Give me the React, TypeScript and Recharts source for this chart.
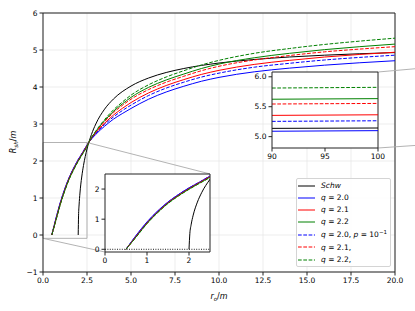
import React from 'react';
import { LineChart, Line, XAxis, YAxis, CartesianGrid, ReferenceLine, ReferenceArea, Legend } from 'recharts';

const FONT = '"DejaVu Sans", "Liberation Sans", sans-serif';

// ---- data ----
const schwX = [2, 2.02, 2.05, 2.1, 2.2, 2.3, 2.5, 2.75, 3, 3.5, 4, 5, 6, 7, 8, 10, 12, 14, 16, 18, 20];
const schwY = [0, 0.517, 0.811, 1.134, 1.567, 1.877, 2.324, 2.713, 3.0, 3.402, 3.674, 4.025, 4.243, 4.392, 4.5, 4.648, 4.743, 4.811, 4.86, 4.899, 4.93];

const qX = [0.5, 0.75, 1, 1.25, 1.5, 1.75, 2, 2.25, 2.5, 2.6, 3, 3.5, 4, 4.5, 5, 6, 7, 8, 9, 10, 12, 14, 16, 18, 20];
const q20Y = [0, 0.48, 0.91, 1.27, 1.57, 1.82, 2.04, 2.23, 2.43, 2.5, 2.72, 2.94, 3.13, 3.28, 3.42, 3.67, 3.865, 4.02, 4.155, 4.26, 4.41, 4.51, 4.59, 4.655, 4.71];
const q21Y = [0, 0.45, 0.88, 1.24, 1.55, 1.8, 2.02, 2.22, 2.42, 2.5, 2.76, 3.02, 3.24, 3.42, 3.58, 3.84, 4.04, 4.2, 4.34, 4.45, 4.61, 4.72, 4.81, 4.88, 4.94];
const q22Y = [0, 0.43, 0.86, 1.22, 1.53, 1.78, 2.0, 2.2, 2.4, 2.5, 2.795, 3.09, 3.34, 3.54, 3.72, 3.99, 4.19, 4.35, 4.5, 4.62, 4.79, 4.91, 5.01, 5.09, 5.16];
const q20pY = [0, 0.465, 0.895, 1.255, 1.565, 1.815, 2.035, 2.23, 2.43, 2.5, 2.74, 2.985, 3.19, 3.36, 3.51, 3.77, 3.97, 4.13, 4.268, 4.375, 4.535, 4.64, 4.73, 4.8, 4.86];
const q21pY = [0, 0.44, 0.87, 1.23, 1.54, 1.79, 2.01, 2.21, 2.41, 2.5, 2.78, 3.065, 3.305, 3.5, 3.67, 3.93, 4.13, 4.29, 4.44, 4.56, 4.73, 4.85, 4.95, 5.025, 5.09];
const q22pY = [0, 0.42, 0.85, 1.21, 1.52, 1.77, 1.99, 2.19, 2.39, 2.5, 2.81, 3.12, 3.38, 3.59, 3.78, 4.06, 4.27, 4.44, 4.595, 4.72, 4.91, 5.04, 5.15, 5.24, 5.32];

const farX = [90, 95, 100];
const farSchw = [5.138, 5.141, 5.144];
const farQ20 = [5.09, 5.095, 5.1];
const farQ21 = [5.355, 5.36, 5.365];
const farQ22 = [5.625, 5.63, 5.635];
const farQ20p = [5.255, 5.26, 5.265];
const farQ21p = [5.545, 5.55, 5.555];
const farQ22p = [5.812, 5.818, 5.824];

const labels = ['Schw', 'q = 2.0', 'q = 2.1', 'q = 2.2', 'q = 2.0, p = 10^-1', 'q = 2.1,', 'q = 2.2,'];

const mainXTicks = [0, 2.5, 5, 7.5, 10, 12.5, 15, 17.5, 20];
const mainYTicks = [-1, 0, 1, 2, 3, 4, 5, 6];
const lowTicks = [0, 1, 2];
const farXTicks = [90, 95, 100];
const farYTicks = [5.0, 5.5, 6.0];

// zoom box and connector ends (data coordinates of the main axes)
const zoomBox = { x1: 0, x2: 2.5, y1: -0.09, y2: 2.5 };
const lowConnA = [{ x: 2.5, y: 2.5 }, { x: 9.49, y: 1.65 }];
const lowConnB = [{ x: 0, y: -0.09 }, { x: 3.52, y: -0.46 }];
const farConnA = [{ x: 19.03, y: 4.405 }, { x: 21.3, y: 4.5 }];
const farConnB = [{ x: 19.03, y: 2.351 }, { x: 21.3, y: 2.425 }];

const pts = (xs: number[], ys: number[]) => xs.map((x, i) => ({ x, y: ys[i] }));

const DASH = '3.7 1.6';
const series = [
  { name: labels[0], color: '#000000', dash: undefined as string | undefined, main: pts(schwX, schwY), far: pts(farX, farSchw) },
  { name: labels[1], color: '#0000ff', dash: undefined, main: pts(qX, q20Y), far: pts(farX, farQ20) },
  { name: labels[2], color: '#ff0000', dash: undefined, main: pts(qX, q21Y), far: pts(farX, farQ21) },
  { name: labels[3], color: '#008000', dash: undefined, main: pts(qX, q22Y), far: pts(farX, farQ22) },
  { name: labels[4], color: '#0000ff', dash: DASH, main: pts(qX, q20pY), far: pts(farX, farQ20p) },
  { name: labels[5], color: '#ff0000', dash: DASH, main: pts(qX, q21pY), far: pts(farX, farQ21p) },
  { name: labels[6], color: '#008000', dash: DASH, main: pts(qX, q22pY), far: pts(farX, farQ22p) },
];

const tickStyle = { fontSize: 7.5, fill: '#000', fontFamily: FONT };
const AX = '#222';
const GRAY = '#aaaaaa';

function fmtMinus(v: number, digits = 0) {
  const s = Math.abs(v).toFixed(digits);
  return v < 0 ? '\u2212' + s : s;
}

function renderName(name: string) {
  const parts: React.ReactNode[] = [];
  const tokens = name.split(/(\^-?\d+|\bq\b|\bp\b|Schw)/).filter((t) => t !== '');
  tokens.forEach((t, i) => {
    if (t === 'q' || t === 'p' || t === 'Schw') parts.push(<i key={i}>{t}</i>);
    else if (t.startsWith('^')) parts.push(<sup key={i} style={{ fontSize: 5.5, lineHeight: 0 }}>{t.slice(1).replace('-', '\u2212')}</sup>);
    else parts.push(<span key={i}>{t}</span>);
  });
  return parts;
}

const rowH = [12, 12, 12, 12, 13, 12.5, 12];

function LegendBox() {
  return (
    <div style={{ width: 95, height: 89, boxSizing: 'border-box', border: '1px solid #d4d4d4', borderRadius: 2, background: 'rgba(255,255,255,0.85)', fontFamily: FONT, fontSize: 7.5, color: '#000', paddingTop: 1, paddingLeft: 1 }}>
      {series.map((s, i) => (
        <div key={i} style={{ display: 'flex', alignItems: 'center', height: rowH[i] }}>
          <svg width={20} height={6} style={{ flex: 'none', display: 'block' }}>
            <line x1={0} x2={17} y1={3} y2={3} stroke={s.color} strokeWidth={1} strokeDasharray={s.dash} />
          </svg>
          <span style={{ marginLeft: 3, whiteSpace: 'nowrap', lineHeight: 1 }}>{renderName(s.name)}</span>
        </div>
      ))}
    </div>
  );
}

function XLabel() {
  return (
    <text x={219} y={299} textAnchor="middle" fontFamily={FONT} fontSize={8} fontStyle="italic" fill="#000">
      r<tspan fontSize={5.6} dy={1.8}>o</tspan><tspan dy={-1.8} fontStyle="normal">/</tspan><tspan>m</tspan>
    </text>
  );
}

function YLabel() {
  return (
    <text transform="rotate(-90)" x={-142} y={16} textAnchor="middle" fontFamily={FONT} fontSize={8} fontStyle="italic" fill="#000">
      R<tspan fontSize={5.6} dy={1.8}>sh</tspan><tspan dy={-1.8} fontStyle="normal">/</tspan><tspan>m</tspan>
    </text>
  );
}

function lines(key: 'main' | 'far') {
  return series.map((s, i) => (
    <Line
      key={key + i}
      name={s.name}
      data={s[key]}
      dataKey="y"
      type="monotone"
      stroke={s.color}
      strokeWidth={1}
      strokeDasharray={s.dash}
      dot={false}
      activeDot={false}
      isAnimationActive={false}
    />
  ));
}

export default function App() {
  return (
    <div style={{ position: 'absolute', left: 0, top: 0, width: 415, height: 311, background: '#fff' }}>
      <div style={{ position: 'absolute', left: 0, top: 0 }}>
        <LineChart width={415} height={311} margin={{ top: 13, right: 20, left: 0, bottom: 0 }}>
          <CartesianGrid stroke="#e9e9e9" strokeWidth={0.8} />
          <XAxis type="number" dataKey="x" domain={[0, 20]} ticks={mainXTicks} allowDataOverflow height={39}
            tickFormatter={(v: number) => v.toFixed(1)} tick={tickStyle} tickSize={3.5} stroke={AX} label={<XLabel />} />
          <YAxis type="number" domain={[-1, 6]} ticks={mainYTicks} allowDataOverflow width={43}
            tickFormatter={(v: number) => fmtMinus(v)} tick={tickStyle} tickSize={3.5} stroke={AX} label={<YLabel />} />
          <ReferenceLine y={6} stroke={AX} strokeWidth={1} />
          <ReferenceLine x={20} stroke={AX} strokeWidth={1} />
          <ReferenceArea x1={zoomBox.x1} x2={zoomBox.x2} y1={zoomBox.y1} y2={zoomBox.y2} fill="none" fillOpacity={0} stroke={GRAY} strokeWidth={0.9} />
          <ReferenceLine segment={lowConnA} stroke={GRAY} strokeWidth={0.9} ifOverflow="visible" />
          <ReferenceLine segment={lowConnB} stroke={GRAY} strokeWidth={0.9} ifOverflow="visible" />
          <ReferenceLine segment={farConnA} stroke={GRAY} strokeWidth={0.9} ifOverflow="visible" />
          <ReferenceLine segment={farConnB} stroke={GRAY} strokeWidth={0.9} ifOverflow="visible" />
          {lines('main')}
          <Legend content={() => <LegendBox />} layout="vertical" align="center" verticalAlign="middle"
            wrapperStyle={{ left: 296, top: 178, width: 95, height: 89 }} />
        </LineChart>
      </div>

      {/* lower-left inset */}
      <div style={{ position: 'absolute', left: 85, top: 172 }}>
        <LineChart width={130} height={96} margin={{ top: 2, right: 5, left: 0, bottom: 0 }}>
          <CartesianGrid fill="#ffffff" horizontal={false} vertical={false} />
          <XAxis type="number" dataKey="x" domain={[0, 2.5]} ticks={lowTicks} allowDataOverflow height={16}
            tick={tickStyle} tickSize={3.5} stroke={AX} />
          <YAxis type="number" domain={[-0.09, 2.5]} ticks={lowTicks} allowDataOverflow width={20}
            tick={tickStyle} tickSize={3.5} stroke={AX} />
          <ReferenceLine y={2.5} stroke={AX} strokeWidth={1} />
          <ReferenceLine x={2.5} stroke={AX} strokeWidth={1} />
          <ReferenceLine y={0} stroke="#000" strokeWidth={0.9} strokeDasharray="1 1.4" />
          {lines('main')}
        </LineChart>
      </div>

      {/* upper-right inset */}
      <div style={{ position: 'absolute', left: 242, top: 70 }}>
        <LineChart width={144} height={94} margin={{ top: 2, right: 8, left: 0, bottom: 0 }}>
          <CartesianGrid fill="#ffffff" horizontal={false} vertical={false} />
          <XAxis type="number" dataKey="x" domain={[90, 100]} ticks={farXTicks} allowDataOverflow height={16}
            tick={tickStyle} tickSize={3.5} stroke={AX} />
          <YAxis type="number" domain={[4.81, 6.08]} ticks={farYTicks} allowDataOverflow width={30}
            tickFormatter={(v: number) => v.toFixed(1)} tick={tickStyle} tickSize={3.5} stroke={AX} />
          <ReferenceLine y={6.08} stroke={AX} strokeWidth={1} />
          <ReferenceLine x={100} stroke={AX} strokeWidth={1} />
          {lines('far')}
        </LineChart>
      </div>
    </div>
  );
}
